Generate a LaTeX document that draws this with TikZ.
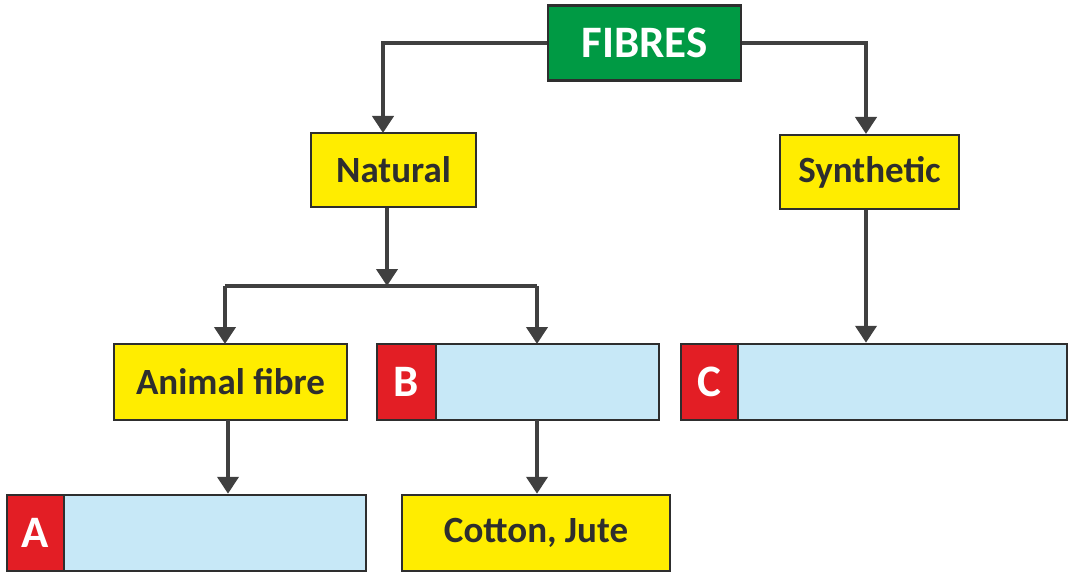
\documentclass[tikz,border=0pt]{standalone}
\usepackage{fontspec}
\setmainfont{Carlito}
\usetikzlibrary{arrows.meta}
\definecolor{fgreen}{HTML}{009A44}
\definecolor{fyellow}{HTML}{FFED00}
\definecolor{fblue}{HTML}{C7E8F7}
\definecolor{fred}{HTML}{E31E25}
\definecolor{ftext}{HTML}{2E2E2E}
\definecolor{fline}{HTML}{404040}
\tikzset{
  box/.style={draw=ftext, line width=2.5pt, rectangle, inner sep=0pt, font=\bfseries\fontsize{37}{40}\selectfont, text=ftext},
  ybox/.style={box, fill=fyellow},
  gbox/.style={box, fill=fgreen, text=white, font=\bfseries\fontsize{45}{48}\selectfont},
  bbox/.style={box, fill=fblue},
  rbox/.style={box, fill=fred, text=white, font=\bfseries\fontsize{45}{48}\selectfont},
  conn/.style={draw=fline, line width=4pt, -{Triangle[width=21pt,length=17pt]}},
  seg/.style={draw=fline, line width=4pt}
}
\begin{document}
\begin{tikzpicture}[x=1pt,y=-1pt]
\useasboundingbox (0,0) rectangle (1069,575);
% nodes
\node[gbox, minimum width=193pt, minimum height=75pt] (fibres) at (644.5,43) {FIBRES};
\node[ybox, minimum width=165pt, minimum height=74pt] (natural) at (393.5,170) {Natural};
\node[ybox, minimum width=179pt, minimum height=74pt] (synthetic) at (869.5,172) {Synthetic};
\node[ybox, minimum width=233pt, minimum height=76pt] (animal) at (230.5,382) {Animal fibre};
\node[bbox, minimum width=223pt, minimum height=76pt] (bblue) at (547.5,382) {};
\node[rbox, minimum width=59pt, minimum height=76pt] (bred) at (406.5,382) {B};
\node[bbox, minimum width=329pt, minimum height=76pt] (cblue) at (902.5,382) {};
\node[rbox, minimum width=57pt, minimum height=76pt] (cred) at (709.5,382) {C};
\node[bbox, minimum width=302pt, minimum height=76pt] (ablue) at (215,533) {};
\node[rbox, minimum width=57pt, minimum height=76pt] (ared) at (35.5,533) {A};
\node[ybox, minimum width=268pt, minimum height=76pt] (cotton) at (536,533) {Cotton, Jute};
% coordinates
\coordinate (nattop) at (383,133);
\coordinate (syntop) at (866,134);
\coordinate (split) at (387,286);
\coordinate (aniTop) at (225,344);
\coordinate (bTop) at (537,344);
\coordinate (aniBot) at (228,420);
\coordinate (bBot) at (537,420);
% connectors
\draw[conn] (fibres.west) -| (nattop);
\draw[conn] (fibres.east) -| (syntop);
\draw[conn] (natural.south -| split) -- (split);
\draw[seg] (split -| aniTop) -- (split -| bTop);
\draw[conn] (split -| aniTop) -- (aniTop);
\draw[conn] (split -| bTop) -- (bTop);
\draw[conn] (aniBot) -- (aniBot |- ablue.north);
\draw[conn] (bBot) -- (bBot |- cotton.north);
\draw[conn] (synthetic.south -| syntop) -- (syntop |- cblue.north);
\end{tikzpicture}
\end{document}
